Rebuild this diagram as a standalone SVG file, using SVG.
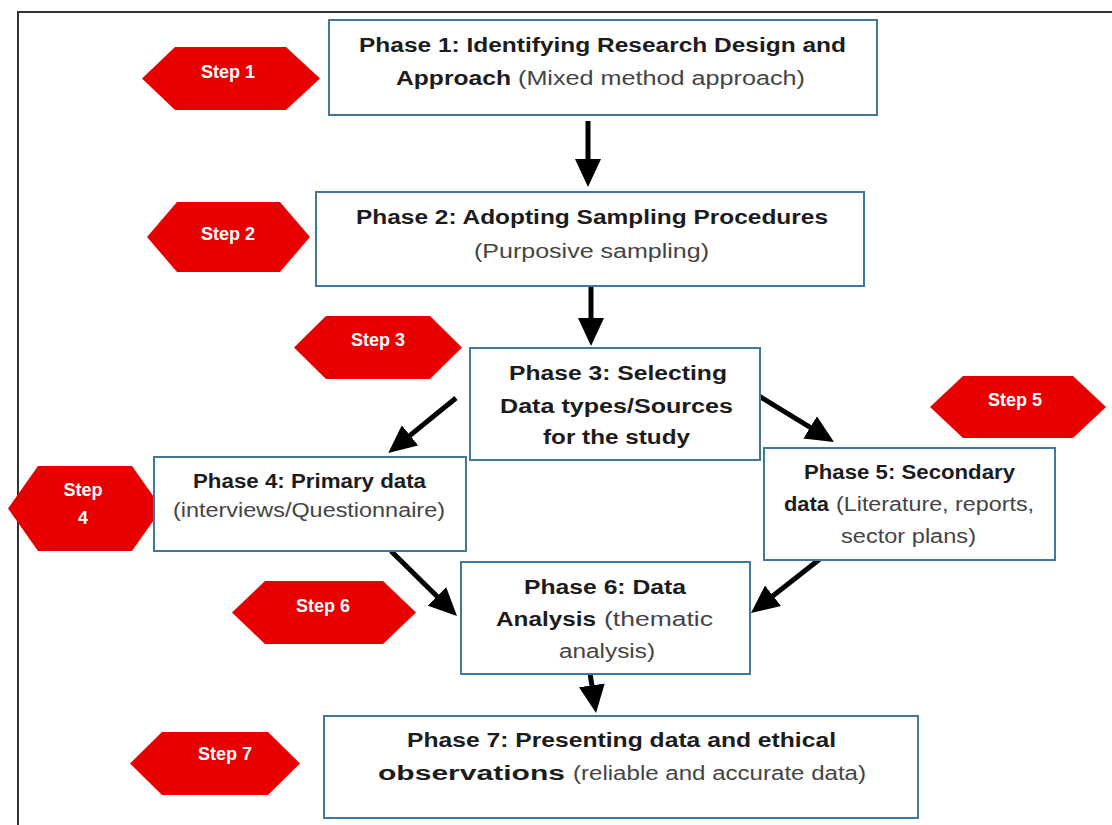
<svg xmlns="http://www.w3.org/2000/svg" width="1112" height="825" viewBox="0 0 1112 825">
<style>
.box{fill:#fff;stroke:#41789A;stroke-width:2}
.hex{fill:#E80000}
.st{font-family:"Liberation Sans",Arial,sans-serif;font-weight:bold;font-size:18px;fill:#fff;text-anchor:middle}
.t{font-family:"Liberation Sans",Arial,sans-serif;font-size:20px;fill:#1c1c1c}
.b{font-weight:bold;fill:#1c1c1c}
.r{font-weight:normal;fill:#444}
.arr{stroke:#000;stroke-width:5;fill:none;marker-end:url(#ah)}
</style>
<defs>
<marker id="ah" markerUnits="userSpaceOnUse" markerWidth="28" markerHeight="26" refX="13" refY="13" orient="auto">
<path d="M0,0 L28,13 L0,26 z" fill="#000"/>
</marker>
</defs>
<rect x="0" y="0" width="1112" height="825" fill="#fff"/>
<rect x="18" y="12" width="1200" height="900" fill="none" stroke="#333" stroke-width="2"/>

<g id="connectors">
<line class="arr" x1="588" y1="121" x2="588" y2="172"/>
<line class="arr" x1="591" y1="287" x2="591" y2="331"/>
<line class="arr" x1="456" y1="398" x2="399.9" y2="443.6"/>
<line class="arr" x1="759" y1="396" x2="821.2" y2="434.2"/>
<line class="arr" x1="391" y1="551" x2="446.3" y2="605.5"/>
<line class="arr" x1="825" y1="555" x2="762.8" y2="603.8"/>
<line class="arr" x1="590" y1="673" x2="593.8" y2="698.2"/>
</g>

<g id="step1"><polygon class="hex" points="142,78.5 175,47 286,47 320,78.5 286,110 175,110"/><text class="st" x="228" y="78">Step 1</text></g>
<g id="step2"><polygon class="hex" points="147,237 177,202 280,202 310,237 280,272 177,272"/><text class="st" x="228" y="240">Step 2</text></g>
<g id="step3"><polygon class="hex" points="294,347.5 326,316 430,316 462,347.5 430,379 326,379"/><text class="st" x="378" y="346">Step 3</text></g>
<g id="step4"><polygon class="hex" points="8,508.5 38,466 132,466 162,508.5 132,551 38,551"/><text class="st" x="83" y="496">Step</text><text class="st" x="83" y="524">4</text></g>
<g id="step5"><polygon class="hex" points="930,407 963,376 1073,376 1106,407 1073,438 963,438"/><text class="st" x="1015" y="406">Step 5</text></g>
<g id="step6"><polygon class="hex" points="232,612.5 265,581 383,581 416,612.5 383,644 265,644"/><text class="st" x="323" y="612">Step 6</text></g>
<g id="step7"><polygon class="hex" points="130,763.5 162,732 268,732 300,763.5 268,795 162,795"/><text class="st" x="225" y="760">Step 7</text></g>

<g id="phase1"><rect class="box" x="329" y="20" width="548" height="95"/>
<text class="t"><tspan class="b" x="359" y="52" textLength="487" lengthAdjust="spacingAndGlyphs">Phase 1: Identifying Research Design and</tspan></text>
<text class="t"><tspan class="b" x="396" y="85" textLength="115" lengthAdjust="spacingAndGlyphs">Approach</tspan><tspan class="r" x="518" y="85" textLength="287" lengthAdjust="spacingAndGlyphs">(Mixed method approach)</tspan></text></g>

<g id="phase2"><rect class="box" x="316" y="192" width="548" height="94"/>
<text class="t"><tspan class="b" x="356" y="224" textLength="472" lengthAdjust="spacingAndGlyphs">Phase 2: Adopting Sampling Procedures</tspan></text>
<text class="t"><tspan class="r" x="474" y="258" textLength="235" lengthAdjust="spacingAndGlyphs">(Purposive sampling)</tspan></text></g>

<g id="phase3"><rect class="box" x="470" y="348" width="290" height="112"/>
<text class="t"><tspan class="b" x="509" y="380" textLength="218" lengthAdjust="spacingAndGlyphs">Phase 3: Selecting</tspan></text>
<text class="t"><tspan class="b" x="500" y="413" textLength="233" lengthAdjust="spacingAndGlyphs">Data types/Sources</tspan></text>
<text class="t"><tspan class="b" x="543" y="444" textLength="147" lengthAdjust="spacingAndGlyphs">for the study</tspan></text></g>

<g id="phase4"><rect class="box" x="154" y="457" width="312" height="94"/>
<text class="t"><tspan class="b" x="193" y="488" textLength="233" lengthAdjust="spacingAndGlyphs">Phase 4: Primary data</tspan></text>
<text class="t"><tspan class="r" x="173" y="517" textLength="272" lengthAdjust="spacingAndGlyphs">(interviews/Questionnaire)</tspan></text></g>

<g id="phase5"><rect class="box" x="764" y="448" width="291" height="112"/>
<text class="t"><tspan class="b" x="804" y="479" textLength="211" lengthAdjust="spacingAndGlyphs">Phase 5: Secondary</tspan></text>
<text class="t"><tspan class="b" x="784" y="511" textLength="45" lengthAdjust="spacingAndGlyphs">data</tspan><tspan class="r" x="836" y="511" textLength="198" lengthAdjust="spacingAndGlyphs">(Literature, reports,</tspan></text>
<text class="t"><tspan class="r" x="841" y="543" textLength="135" lengthAdjust="spacingAndGlyphs">sector plans)</tspan></text></g>

<g id="phase6"><rect class="box" x="461" y="562" width="289" height="112"/>
<text class="t"><tspan class="b" x="524" y="594" textLength="162" lengthAdjust="spacingAndGlyphs">Phase 6: Data</tspan></text>
<text class="t"><tspan class="b" x="496" y="626" textLength="100" lengthAdjust="spacingAndGlyphs">Analysis</tspan><tspan class="r" x="604" y="626" textLength="109" lengthAdjust="spacingAndGlyphs">(thematic</tspan></text>
<text class="t"><tspan class="r" x="559" y="658" textLength="96" lengthAdjust="spacingAndGlyphs">analysis)</tspan></text></g>

<g id="phase7"><rect class="box" x="324" y="716" width="594" height="102"/>
<text class="t"><tspan class="b" x="407" y="747" textLength="429" lengthAdjust="spacingAndGlyphs">Phase 7: Presenting data and ethical</tspan></text>
<text class="t"><tspan class="b" x="378" y="780" textLength="187" lengthAdjust="spacingAndGlyphs">observations</tspan><tspan class="r" x="573" y="780" textLength="293" lengthAdjust="spacingAndGlyphs">(reliable and accurate data)</tspan></text></g>
</svg>
